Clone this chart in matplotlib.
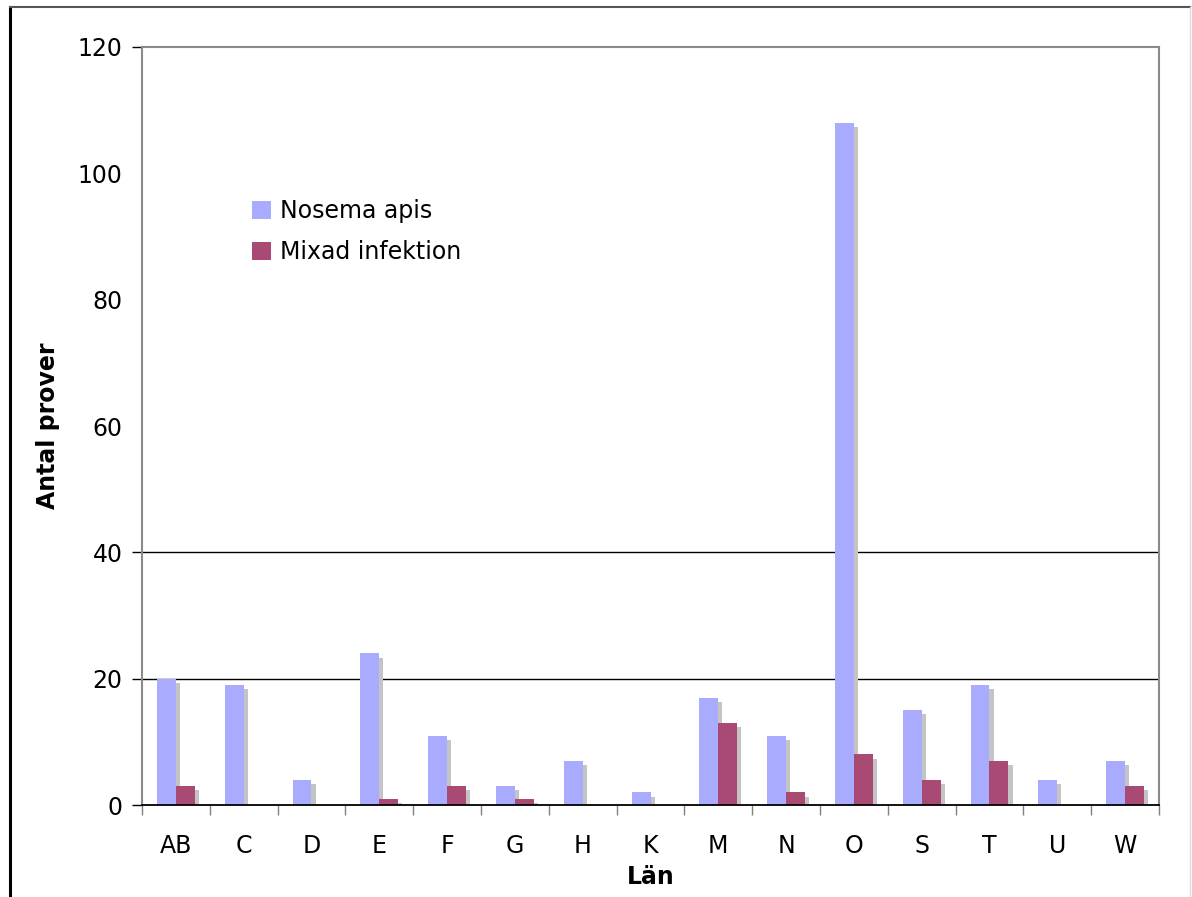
import matplotlib
matplotlib.use("Agg")
import matplotlib.pyplot as plt
import matplotlib.patheffects as pe
from matplotlib.lines import Line2D
from matplotlib.patches import Patch
import numpy as np

# Samples per county (län)
lan = ["AB", "C", "D", "E", "F", "G", "H", "K", "M", "N", "O", "S", "T", "U", "W"]
nosema_apis = [20, 19, 4, 24, 11, 3, 7, 2, 17, 11, 108, 15, 19, 4, 7]
mixad_infektion = [3, 0, 0, 1, 3, 1, 0, 0, 13, 2, 8, 4, 7, 0, 3]
series_names = ["Nosema apis", "Mixad infektion"]
y_ticks = [0, 20, 40, 60, 80, 100, 120]

blue = "#a9abff"
plum = "#a94a75"
shadow = "#c4c4c4"
FS = 17

fig = plt.figure(figsize=(11.92, 8.97), dpi=100)
ax = fig.add_axes([142 / 1192, 1 - 805 / 897, (1159 - 142) / 1192, (805 - 47) / 897])

x = np.arange(len(lan))
w = 0.28
fx = [pe.SimplePatchShadow(offset=(3, -3), shadow_rgbFace=shadow, alpha=1.0), pe.Normal()]

ax.bar(x - w / 2, nosema_apis, width=w, color=blue, linewidth=0,
       path_effects=fx, zorder=3)
ax.bar(x + w / 2, mixad_infektion, width=w, color=plum, linewidth=0,
       path_effects=fx, zorder=4)

ax.set_xlim(-0.5, len(lan) - 0.5)
ax.set_ylim(0, 120)

for yv in (20, 40):
    ax.axhline(yv, color="black", linewidth=1.0, zorder=2)

# y axis: labels every 20, tick marks only at 0, 20, 40 and 120
ax.set_yticks(y_ticks)
ax.tick_params(axis="y", which="major", length=7, width=1, color="black",
               pad=7, labelsize=FS)
for t, v in zip(ax.yaxis.get_major_ticks(), y_ticks):
    if v in (60, 80, 100):
        t.tick1line.set_visible(False)

# x axis: labels at centers, tick marks at category boundaries
ax.set_xticks(x)
ax.set_xticklabels(lan)
ax.set_xticks(np.arange(len(lan) + 1) - 0.5, minor=True)
ax.tick_params(axis="x", which="major", length=0, pad=21, labelsize=FS)
ax.tick_params(axis="x", which="minor", length=7, width=1, color="#808080")

for side in ("left", "top", "right"):
    ax.spines[side].set_color("#8a8a8a")
    ax.spines[side].set_linewidth(1.5)
ax.spines["bottom"].set_color("black")
ax.spines["bottom"].set_linewidth(1.3)
ax.spines["bottom"].set_zorder(5)

ax.set_ylabel("Antal prover", fontsize=FS, fontweight="bold")
ax.set_xlabel("Län", fontsize=FS, fontweight="bold", labelpad=5)
ax.yaxis.set_label_coords((60 - 142) / (1159 - 142), 0.5)

handles = [Patch(facecolor=blue, edgecolor="none"), Patch(facecolor=plum, edgecolor="none")]
ax.legend(handles, series_names, loc="upper left", bbox_to_anchor=(252 / 1192, 1 - 199 / 897),
          bbox_transform=fig.transFigure, frameon=False, fontsize=FS,
          handlelength=0.8, handleheight=0.8, handletextpad=0.4,
          labelspacing=0.72, borderpad=0, borderaxespad=0)

# outer frame of the figure
fig.add_artist(Line2D([10 / 1192, 10 / 1192], [0, 1 - 7 / 897], color="black", linewidth=2.2,
                      transform=fig.transFigure))
fig.add_artist(Line2D([10 / 1192, 1190 / 1192], [1 - 7 / 897, 1 - 7 / 897], color="#555555",
                      linewidth=1.5, transform=fig.transFigure))
fig.add_artist(Line2D([1190 / 1192, 1190 / 1192], [0, 1 - 7 / 897], color="#dddddd",
                      linewidth=1.0, transform=fig.transFigure))

fig.savefig("out.png", dpi=100)
